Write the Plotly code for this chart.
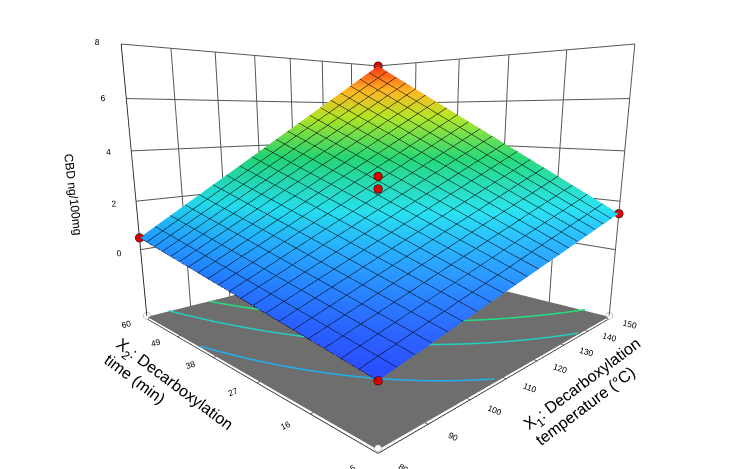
import numpy as np
import plotly.graph_objects as go

# Axis ranges
x1_range = [80, 150]   # temperature
x2_range = [5, 60]     # time
# Model coefficients (coded units): CBD = b0 + b1*A + b2*B + b12*A*B
b0, b1, b2, b12 = 2.25, 2.5, 2.0, 1.25
# Design points
pts_x1 = [80, 80, 150, 150, 115, 115]
pts_x2 = [5, 60, 5, 60, 32.5, 32.5]
pts_z = [-1.0, 0.5, 1.5, 8.0, 3.0, 2.5]
z_ticks = [0, 2, 4, 6, 8]
x1_ticks = [80, 90, 100, 110, 120, 130, 140, 150]
x2_ticks = [5, 16, 27, 38, 49, 60]

x1 = np.linspace(*x1_range, 21)
x2 = np.linspace(*x2_range, 21)
X1, X2 = np.meshgrid(x1, x2)
A = (X1 - 115) / 35
B = (X2 - 32.5) / 27.5
Z = b0 + b1 * A + b2 * B + b12 * A * B

cs = [[0, '#2040ff'], [0.15, '#2090ff'], [0.3, '#20d8e8'], [0.5, '#20d070'],
      [0.7, '#b0e020'], [0.85, '#ffb020'], [1, '#ff3010']]
zmin = -3
floor = -2.9
fig = go.Figure()
fig.add_trace(go.Surface(x=x1, y=x2, z=Z, colorscale=cs, showscale=False,
    cmin=-1.0, cmax=8,
    contours=dict(x=dict(show=True, color='black', width=1, start=80, end=150, size=3.5),
                  y=dict(show=True, color='black', width=1, start=5, end=60, size=2.75))))
fig.add_trace(go.Surface(x=x1_range, y=x2_range, z=[[floor, floor], [floor, floor]],
    colorscale=[[0, '#6e6e6e'], [1, '#6e6e6e']], showscale=False, hoverinfo='skip',
    lighting=dict(ambient=1, diffuse=0, specular=0)))
# floor contours
for lev, col in [(0, '#20b0f0'), (1, '#20d0c0'), (2, '#20e080')]:
    xs, ys = [], []
    for xv in np.linspace(80, 150, 60):
        a = (xv - 115) / 35
        bb = (lev - b0 - b1 * a) / (b2 + b12 * a)
        yv = 32.5 + bb * 27.5
        if 5 <= yv <= 60:
            xs.append(xv); ys.append(yv)
    fig.add_trace(go.Scatter3d(x=xs, y=ys, z=[floor + 0.05] * len(xs), mode='lines',
                               line=dict(color=col, width=3), showlegend=False))
fig.add_trace(go.Scatter3d(x=pts_x1, y=pts_x2, z=pts_z, mode='markers',
    marker=dict(size=5, color='#e00000', line=dict(color='black', width=1)), showlegend=False))
fig.add_trace(go.Scatter3d(x=pts_x1, y=pts_x2, z=[floor + 0.05] * 6, mode='markers',
    marker=dict(size=4, color='white', line=dict(color='#999', width=1)), showlegend=False))

ax = dict(showbackground=False, gridcolor='#555', linecolor='black', showline=True,
          tickfont=dict(size=10, family='Arial', color='black'), zeroline=False)
fig.update_layout(
    width=740, height=469, margin=dict(l=0, r=0, t=0, b=0),
    paper_bgcolor='white', showlegend=False, font=dict(color='black', family='Arial'),
    scene=dict(
        xaxis=dict(ax, range=x1_range, tickvals=x1_ticks,
                   title=dict(text='X<sub>1</sub>: Decarboxylation<br>temperature (°C)', font=dict(size=16))),
        yaxis=dict(ax, range=x2_range, tickvals=x2_ticks,
                   title=dict(text='X<sub>2</sub>: Decarboxylation<br>time (min)', font=dict(size=16))),
        zaxis=dict(ax, range=[zmin, 8], tickvals=z_ticks,
                   title=dict(text='CBD ng/100mg', font=dict(size=12))),
        camera=dict(eye=dict(x=-1.45, y=-1.45, z=0.26), center=dict(x=0, y=0, z=-0.2)),
        aspectmode='manual', aspectratio=dict(x=1.25, y=1.25, z=1.0)))
fig.write_html('out.html')
